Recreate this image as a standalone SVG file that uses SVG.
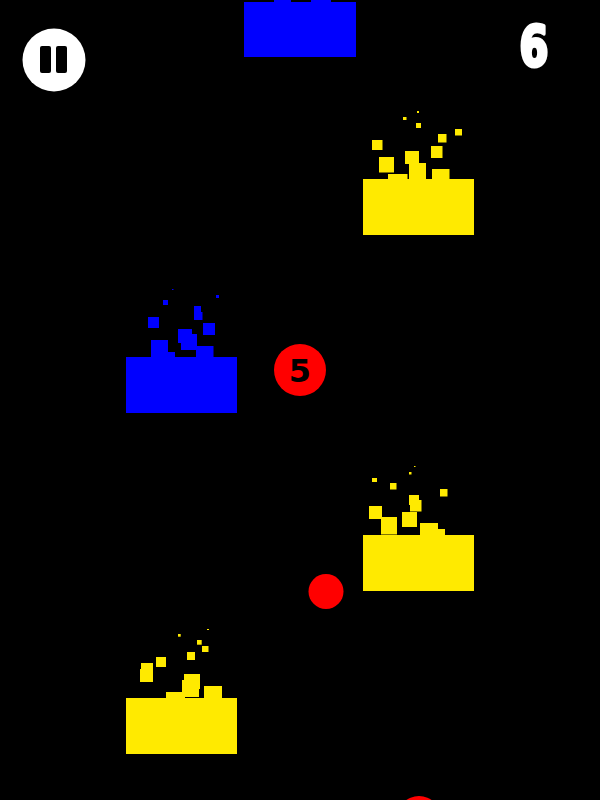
<svg xmlns="http://www.w3.org/2000/svg" width="600" height="800" viewBox="0 0 600 800">
<style>
.y{fill:#FFEA00}
.b{fill:#0000FF}
.r{fill:#FF0000}
.t{font-family:"DejaVu Sans","Liberation Sans",sans-serif;font-weight:bold}
</style>
<rect x="0" y="0" width="600" height="800" fill="#000"/>
<g id="pause">
<circle cx="54" cy="60" r="31.5" fill="#fff"/>
<rect x="40" y="46" width="11" height="27" rx="2" fill="#000"/>
<rect x="56" y="46" width="11" height="27" rx="2" fill="#000"/>
</g>
<g id="score">
<text class="t" x="534" y="65" font-size="56" fill="#fff" stroke="#fff" stroke-width="4" stroke-linejoin="round" text-anchor="middle" transform="translate(534 0) scale(0.74 1) translate(-534 0)">6</text>
</g>
<g id="blue-block-top">
<rect class="b" x="244" y="2" width="112" height="55"/>
<rect class="b" x="274" y="0" width="17" height="3"/>
<rect class="b" x="311" y="0" width="20" height="3"/>
</g>
<g id="yellow-block-1">
<rect class="y" x="363" y="179" width="111" height="56"/>
<rect class="y" x="388" y="174" width="19.5" height="6"/>
<rect class="y" x="409" y="163" width="17" height="17"/>
<rect class="y" x="405" y="151" width="14" height="13"/>
<rect class="y" x="432" y="169" width="17.5" height="11"/>
<rect class="y" x="379" y="157" width="15" height="15.5"/>
<rect class="y" x="372" y="140" width="10.5" height="10"/>
<rect class="y" x="431" y="146" width="11.5" height="12"/>
<rect class="y" x="438" y="134" width="8.5" height="8.5"/>
<rect class="y" x="455" y="129" width="7" height="6.5"/>
<rect class="y" x="416" y="123" width="5" height="5"/>
<rect class="y" x="403" y="117" width="3.5" height="3"/>
<rect class="y" x="417" y="111" width="2" height="2"/>
</g>
<g id="blue-block-2">
<rect class="b" x="126" y="357" width="111" height="56"/>
<rect class="b" x="151" y="340" width="17" height="17.5"/>
<rect class="b" x="157" y="352" width="18" height="6"/>
<rect class="b" x="196" y="346" width="17.5" height="11.5"/>
<rect class="b" x="178" y="329" width="14" height="14"/>
<rect class="b" x="181" y="334" width="16" height="16"/>
<rect class="b" x="203" y="323" width="12" height="12"/>
<rect class="b" x="148" y="317" width="11" height="11"/>
<rect class="b" x="194" y="306" width="7" height="7"/>
<rect class="b" x="194" y="312" width="8.5" height="8"/>
<rect class="b" x="163" y="300" width="5" height="5"/>
<rect class="b" x="216" y="295" width="3" height="3"/>
<rect class="b" x="172" y="289" width="1.5" height="1"/>
</g>
<g id="numbered-ball">
<circle class="r" cx="300" cy="370" r="26"/>
<text class="t" x="300" y="381.5" font-size="32" fill="#000" text-anchor="middle">5</text>
</g>
<g id="yellow-block-2">
<rect class="y" x="363" y="535" width="111" height="56"/>
<rect class="y" x="381" y="517" width="16" height="17.5"/>
<rect class="y" x="369" y="506" width="13" height="13"/>
<rect class="y" x="402" y="512" width="15" height="15"/>
<rect class="y" x="420" y="523" width="18" height="12.5"/>
<rect class="y" x="436" y="529" width="9" height="6.5"/>
<rect class="y" x="409" y="495" width="10" height="10"/>
<rect class="y" x="410" y="500" width="11.5" height="11.5"/>
<rect class="y" x="440" y="489" width="7.5" height="7.5"/>
<rect class="y" x="390" y="483" width="6.5" height="6.5"/>
<rect class="y" x="372" y="478" width="5" height="4"/>
<rect class="y" x="409" y="472" width="2.5" height="2.5"/>
<rect class="y" x="414" y="466" width="1.5" height="1"/>
</g>
<g id="red-ball">
<circle class="r" cx="326" cy="591.5" r="17.5"/>
</g>
<g id="yellow-block-3">
<rect class="y" x="126" y="698" width="111" height="56"/>
<rect class="y" x="166" y="692" width="19" height="6.5"/>
<rect class="y" x="204" y="686" width="18" height="12.5"/>
<rect class="y" x="182" y="680" width="17" height="17"/>
<rect class="y" x="184" y="674" width="16" height="15"/>
<rect class="y" x="140" y="669" width="13" height="13"/>
<rect class="y" x="141" y="663" width="12" height="8"/>
<rect class="y" x="156" y="657" width="10" height="10"/>
<rect class="y" x="187" y="652" width="8" height="8"/>
<rect class="y" x="202" y="646" width="6.5" height="6"/>
<rect class="y" x="197" y="640" width="4.7" height="4.7"/>
<rect class="y" x="178" y="634" width="2.7" height="2.7"/>
<rect class="y" x="207" y="629" width="2" height="1"/>
</g>
<g id="red-ball-bottom">
<circle class="r" cx="419" cy="818" r="22"/>
</g>
</svg>
